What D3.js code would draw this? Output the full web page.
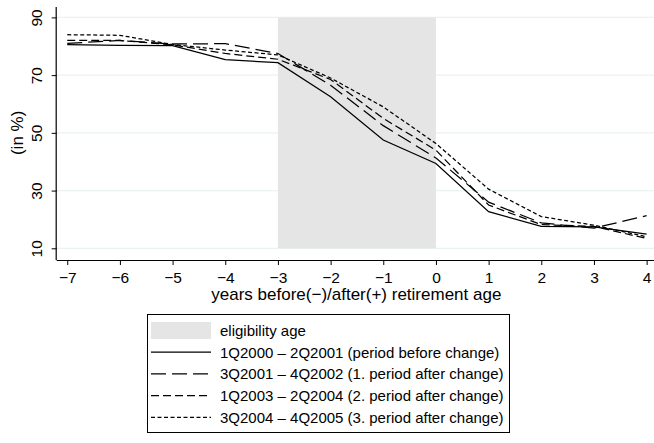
<!DOCTYPE html>
<html>
<head>
<meta charset="utf-8">
<script src="https://cdn.jsdelivr.net/npm/d3@7"></script>
<style>
  html, body { margin: 0; padding: 0; background: #fff; }
  svg { display: block; font-family: "Liberation Sans", Arial, Helvetica, sans-serif; }
</style>
</head>
<body>
<svg id="chart" width="654" height="443"></svg>
<script>
// ---- data ----
const years = [-7, -6, -5, -4, -3, -2, -1, 0, 1, 2, 3, 4];
const period1 = [80.6, 80.3, 80.2, 75.4, 74.3, 62.5, 47.5, 39.4, 22.7, 17.6, 17.4, 14.9]; // 1Q2000 – 2Q2001
const period2 = [81.0, 82.0, 80.8, 80.9, 77.5, 66.5, 52.5, 41.3, 26.0, 18.8, 17.0, 21.3]; // 3Q2001 – 4Q2002
const period3 = [82.0, 82.0, 80.5, 77.5, 75.5, 68.5, 55.0, 44.0, 25.0, 18.2, 17.6, 13.4]; // 1Q2003 – 2Q2004
const period4 = [84.0, 83.8, 80.6, 78.7, 77.0, 69.0, 59.0, 46.3, 30.5, 21.0, 18.0, 14.0]; // 3Q2004 – 4Q2005
const eligibility = [-3, 0];
const eligibilityRange = [10, 90];
const yTicks = [10, 30, 50, 70, 90];
const xTicks = [-7, -6, -5, -4, -3, -2, -1, 0, 1, 2, 3, 4];
const seriesNames = [
  "1Q2000 \u2013 2Q2001 (period before change)",
  "3Q2001 \u2013 4Q2002 (1. period after change)",
  "1Q2003 \u2013 2Q2004 (2. period after change)",
  "3Q2004 \u2013 4Q2005 (3. period after change)"
];
const legendShadeLabel = "eligibility age";
const xTitle = "years before(\u2212)/after(+) retirement age";
const yTitle = "(in %)";

// ---- layout ----
const svg = d3.select("#chart");
const pLeft = 56.7, pRight = 654, pTop = 7, pBottom = 260;
const x = d3.scaleLinear().domain([-7.2, 4.14]).range([pLeft, pRight]);
const y = d3.scaleLinear().domain([5.95, 93.6]).range([pBottom, pTop]);
const dashes = [null, "15,6", "8,4", "4,2.5"];
const seriesData = [period1, period2, period3, period4];
const FONT = "Liberation Sans, Arial, sans-serif";

// gridlines
svg.append("g").selectAll("line").data(yTicks).join("line")
  .attr("x1", pLeft).attr("x2", pRight)
  .attr("y1", d => y(d)).attr("y2", d => y(d))
  .attr("stroke", "#eaf2f3").attr("stroke-width", 1.2);

// shaded eligibility region
svg.append("rect")
  .attr("x", x(eligibility[0])).attr("width", x(eligibility[1]) - x(eligibility[0]))
  .attr("y", y(eligibilityRange[1])).attr("height", y(eligibilityRange[0]) - y(eligibilityRange[1]))
  .attr("fill", "#e5e5e5");

// lines
const line = d3.line().x((d, i) => x(years[i])).y(d => y(d));
seriesData.forEach((s, k) => {
  svg.append("path").datum(s)
    .attr("d", line)
    .attr("fill", "none")
    .attr("stroke", "#000")
    .attr("stroke-width", 1.25)
    .attr("stroke-dasharray", dashes[k]);
});

// x axis
const xAxis = svg.append("g").attr("transform", `translate(0,${pBottom})`)
  .call(d3.axisBottom(x).tickValues(xTicks).tickSize(5).tickPadding(7)
    .tickFormat(d => d < 0 ? "\u2212" + Math.abs(d) : String(d)));
xAxis.select(".domain").attr("d", `M${pLeft},0.5H${pRight}`).attr("stroke", "#000").attr("stroke-width", 1.2);
xAxis.selectAll(".tick line").attr("stroke", "#000");
xAxis.selectAll(".tick text").attr("font-size", 15.5).attr("fill", "#000")
  .attr("font-family", FONT);

// y axis
const yAxis = svg.append("g").attr("transform", `translate(${pLeft},0)`)
  .call(d3.axisLeft(y).tickValues(yTicks).tickSize(5).tickFormat(d3.format("d")));
yAxis.select(".domain").attr("d", `M-0.5,${pTop}V${pBottom}`).attr("stroke", "#000").attr("stroke-width", 1.2);
yAxis.selectAll(".tick line").attr("stroke", "#000");
yAxis.selectAll(".tick text")
  .attr("font-size", 15.5).attr("fill", "#000")
  .attr("font-family", FONT)
  .attr("x", null).attr("dy", null)
  .attr("text-anchor", "middle")
  .attr("dominant-baseline", "central")
  .attr("transform", "translate(-20,0) rotate(-90)");

// axis titles
svg.append("text")
  .attr("x", (pLeft + pRight) / 2 + 1).attr("y", 300)
  .attr("text-anchor", "middle").attr("font-size", 17).attr("fill", "#000")
  .text(xTitle);
svg.append("text")
  .attr("transform", `translate(17,${y(50)}) rotate(-90)`)
  .attr("text-anchor", "middle").attr("dominant-baseline", "central")
  .attr("font-size", 17).attr("fill", "#000")
  .text(yTitle);

// legend
const lg = svg.append("g");
const lx = 147.5, ly = 314.5, lw = 362, lh = 118;
lg.append("rect").attr("x", lx).attr("y", ly).attr("width", lw).attr("height", lh)
  .attr("fill", "#fff").attr("stroke", "#000").attr("stroke-width", 1);
const rowY = i => 330.5 + i * 21.7;
lg.append("rect").attr("x", 151).attr("y", rowY(0) - 8.5).attr("width", 60).attr("height", 17)
  .attr("fill", "#e5e5e5");
lg.append("text").attr("x", 220).attr("y", rowY(0)).attr("dominant-baseline", "central")
  .attr("font-size", 15).attr("fill", "#000").text(legendShadeLabel);
seriesNames.forEach((name, k) => {
  const yy = rowY(k + 1);
  lg.append("line").attr("x1", 151).attr("x2", 211).attr("y1", yy).attr("y2", yy)
    .attr("stroke", "#000").attr("stroke-width", 1.25).attr("stroke-dasharray", dashes[k]);
  lg.append("text").attr("x", 220).attr("y", yy).attr("dominant-baseline", "central")
    .attr("font-size", 15).attr("fill", "#000").text(name);
});
</script>
</body>
</html>
